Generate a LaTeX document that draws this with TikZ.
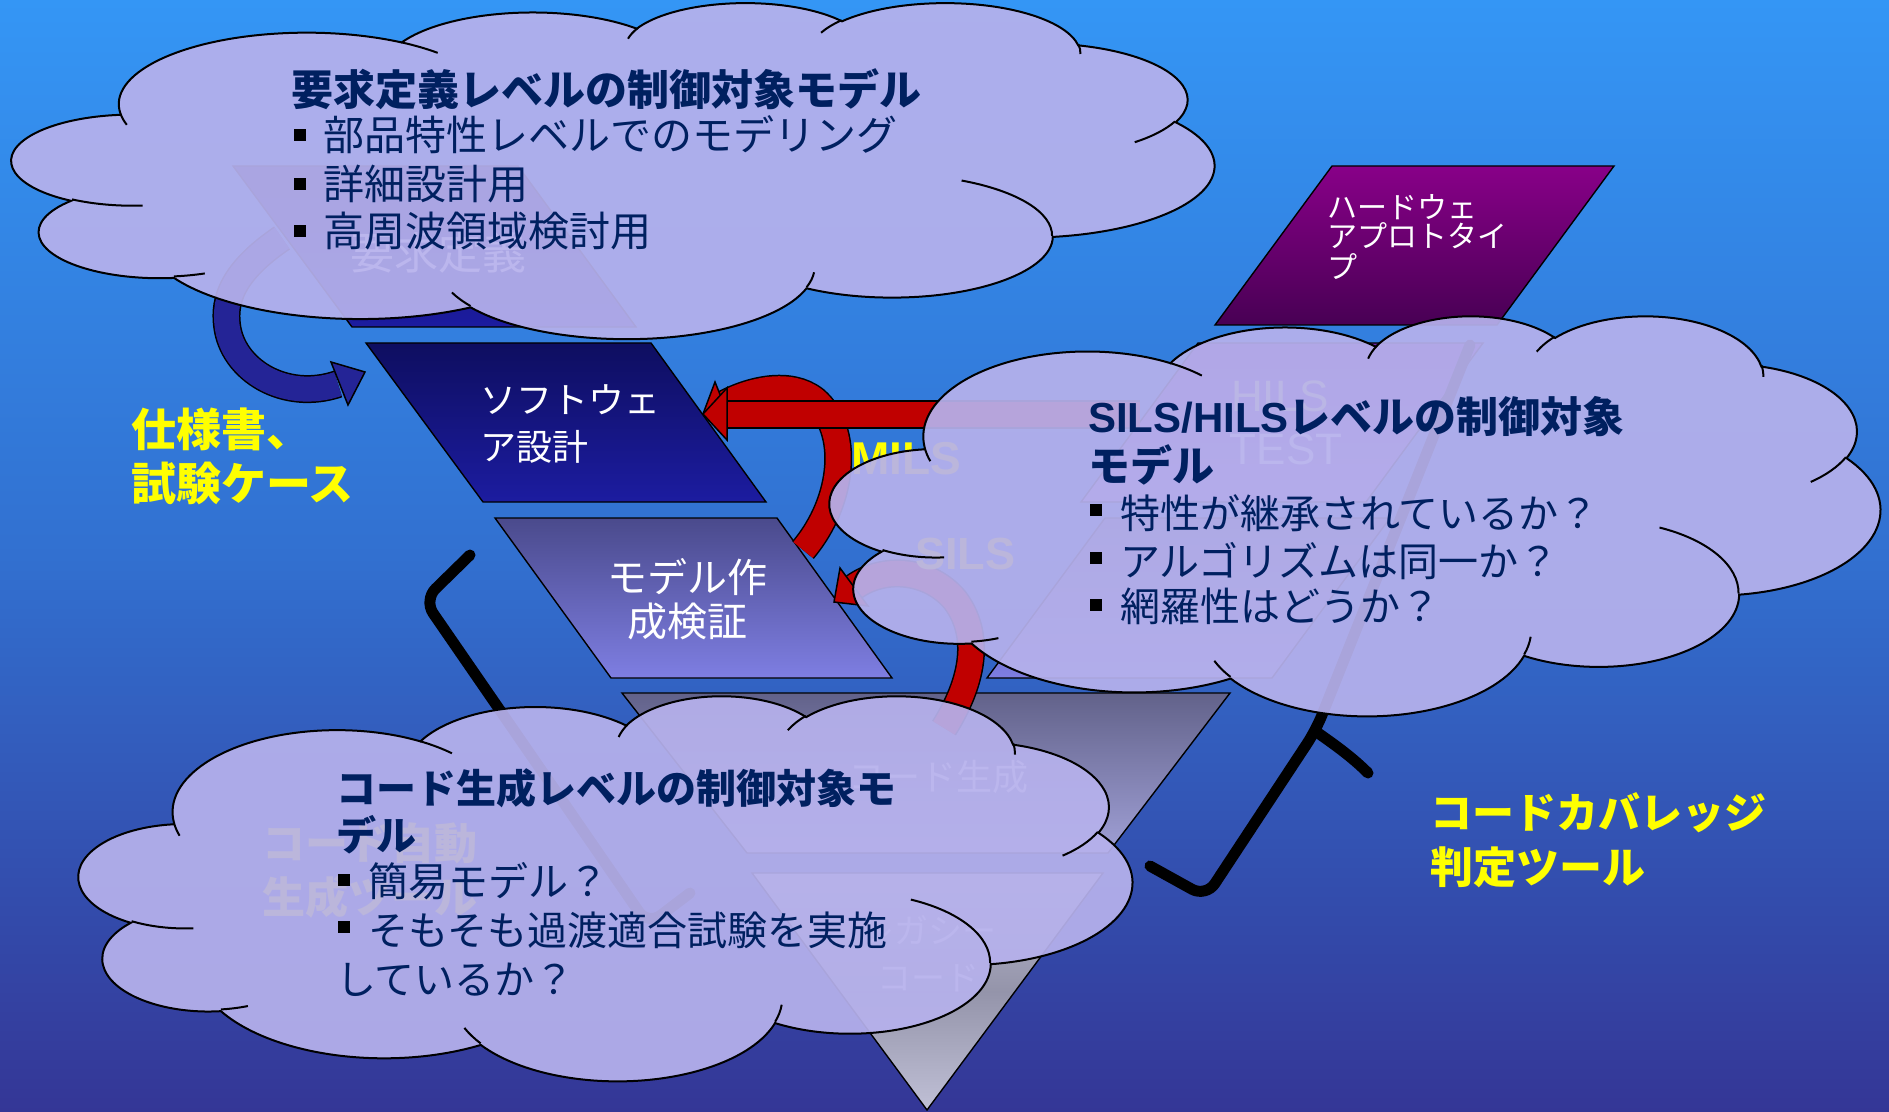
\documentclass[tikz,border=0pt]{standalone}
\usepackage{fontspec}
\newfontfamily\jp{Noto Sans CJK JP}
\newfontfamily\lib{Liberation Sans}
\definecolor{bgtop}{RGB}{52,150,245}
\definecolor{bgmid}{RGB}{50,112,208}
\definecolor{bgbot}{RGB}{52,54,150}
\definecolor{navyt}{RGB}{0,32,96}
\definecolor{cloudc}{RGB}{182,177,236}
\definecolor{arrowred}{RGB}{192,0,0}
\definecolor{arrowblue}{RGB}{36,36,150}
\definecolor{swtop}{RGB}{14,14,96}
\definecolor{swbot}{RGB}{28,28,160}
\definecolor{mdtop}{RGB}{74,74,140}
\definecolor{mdbot}{RGB}{126,126,226}
\definecolor{hwtop}{RGB}{136,0,136}
\definecolor{hwbot}{RGB}{72,0,84}
\definecolor{hltop}{RGB}{112,40,168}
\definecolor{hlbot}{RGB}{150,100,220}
\definecolor{cgtop}{RGB}{98,98,138}
\definecolor{cgbot}{RGB}{160,160,214}
\definecolor{lgtop}{RGB}{188,188,208}
\definecolor{lgmid}{RGB}{148,148,170}
\definecolor{lgbot}{RGB}{192,192,214}
\definecolor{yel}{RGB}{255,255,0}
\definecolor{paleyel}{RGB}{250,250,150}

% PowerPoint-style cloud in a 1000 x 1000 box: #1,#2 = top-left corner, #3,#4 = x / y unit
\newcommand{\pptcloud}[4]{%
  \begin{scope}[shift={(#1,#2)},x=#3,y=#4]
    \path[cloudfill] (90.28,332.64)
      arc[start angle=-187.74,delta angle=128.12,x radius=156.32,y radius=212.73]
      arc[start angle=-152.01,delta angle=106.53,x radius=123.45,y radius=168.22]
      arc[start angle=-153.48,delta angle=116.15,x radius=101.04,y radius=137.62]
      arc[start angle=-139.79,delta angle=129.61,x radius=112.43,y radius=152.66]
      arc[start angle=-74.79,delta angle=98.03,x radius=123.45,y radius=168.36]
      arc[start angle=-37.50,delta angle=119.36,x radius=156.83,y radius=213.43]
      arc[start angle=0.46,delta angle=121.54,x radius=133.91,y radius=182.11]
      arc[start angle=16.88,delta angle=129.30,x radius=156.30,y radius=213.31]
      arc[start angle=59.06,delta angle=91.06,x radius=178.70,y radius=244.05]
      arc[start angle=83.29,delta angle=139.72,x radius=100.93,y radius=136.99]
      arc[start angle=120.23,delta angle=143.91,x radius=100.58,y radius=137.62]
      -- cycle;
    \draw[crease]
      (108.63,605.95) arc[start angle=85.55,delta angle=34.81,x radius=100.58,y radius=137.62]
      (160.37,807.85) arc[start angle=68.24,delta angle=15.06,x radius=100.93,y radius=136.99]
      (381.44,904.86) arc[start angle=146.24,delta angle=12.23,x radius=156.30,y radius=213.31]
      (667.29,804.42) arc[start angle=4.74,delta angle=12.14,x radius=156.30,y radius=213.31]
      (790.02,531.34) arc[start angle=-64.03,delta angle=64.49,x radius=133.91,y radius=182.11]
      (967.55,355.42) arc[start angle=23.24,delta angle=26.40,x radius=123.45,y radius=168.36]
      (887.13,125.60) arc[start angle=-10.18,delta angle=11.00,x radius=112.43,y radius=152.66]
      (673.10,91.48) arc[start angle=-156.29,delta angle=16.50,x radius=112.43,y radius=152.66]
      (512.52,109.26) arc[start angle=-167.73,delta angle=14.25,x radius=101.04,y radius=137.62]
      (324.07,120.19) arc[start angle=-59.62,delta angle=13.89,x radius=156.32,y radius=212.73]
      (95.53,365.49) arc[start angle=163.19,delta angle=9.07,x radius=156.32,y radius=212.73];
  \end{scope}}

\begin{document}
\begin{tikzpicture}[x=0.5pt,y=-0.5pt,
  every node/.style={inner sep=0pt,outer sep=0pt},
  cloudfill/.style={fill=cloudc,fill opacity=0.93,draw=black,line width=1pt},
  crease/.style={draw=black,line width=1pt},
  boxline/.style={draw=black,line width=0.7pt},
  bandout/.style={draw=black,line width=14pt},
  redband/.style={draw=arrowred,line width=12.5pt},
  blueband/.style={draw=arrowblue,line width=12.5pt},
  redhead/.style={fill=arrowred,draw=black,line width=0.75pt},
  bluehead/.style={fill=arrowblue,draw=black,line width=0.75pt},
  bracket/.style={draw=black,line width=5.5pt,line cap=round,line join=round,rounded corners=8pt},
  bulletsq/.style={fill=black},
  ctitle/.style={text=navyt,anchor=base west,font=\jp\bfseries\fontsize{21}{21}\selectfont},
  ctitlesm/.style={text=navyt,anchor=base west,font=\jp\bfseries\fontsize{20}{20}\selectfont},
  citem/.style={text=navyt,anchor=base west,font=\jp\fontsize{20.5}{20.5}\selectfont},
  citemsm/.style={text=navyt,anchor=base west,font=\jp\fontsize{20}{20}\selectfont},
  yellab/.style={text=yel,anchor=base west,font=\jp\bfseries\fontsize{22.5}{22.5}\selectfont},
  boxtext/.style={text=white,font=\jp\fontsize{18}{18}\selectfont},
  loopword/.style={text=yel,anchor=base,font=\lib\bfseries\fontsize{23}{23}\selectfont}
]
% ---------- background ----------
\shade[top color=bgtop,bottom color=bgbot,middle color=bgmid] (0,0) rectangle (1889,1112);
\useasboundingbox (0,0) rectangle (1889,1112);

% ---------- V-model blocks ----------
\shadedraw[boxline,top color=swtop,bottom color=swbot] (233,166) -- (518,166) -- (636,327) -- (352,327) -- cycle;
\shadedraw[boxline,top color=swtop,bottom color=swbot] (366,343) -- (651,343) -- (766,502) -- (483,502) -- cycle;
\shadedraw[boxline,top color=mdtop,bottom color=mdbot] (495,518) -- (777,518) -- (892,678) -- (611,678) -- cycle;
\shadedraw[boxline,top color=cgtop,bottom color=cgbot] (622,693) -- (1230,693) -- (1108,853) -- (747,853) -- cycle;
\shadedraw[boxline,top color=lgtop,bottom color=lgbot,middle color=lgmid] (752,873) -- (1103,873) -- (927,1110) -- cycle;
\shadedraw[boxline,top color=mdtop,bottom color=mdbot] (1105,518) -- (1390,518) -- (1272,678) -- (987,678) -- cycle;
\shadedraw[boxline,top color=hltop,bottom color=hlbot] (1198,343) -- (1483,343) -- (1366,502) -- (1081,502) -- cycle;
\shadedraw[boxline,top color=hwtop,bottom color=hwbot] (1332,166) -- (1614,166) -- (1497,325) -- (1215,325) -- cycle;

% block labels
\node[boxtext,anchor=base,font=\jp\fontsize{22}{22}\selectfont] (req) at (438,270) {要求定義};
\node[boxtext,anchor=base west] (sw1) at (480,414) {ソフトウェ};
\node[boxtext,anchor=base west] (sw2) at (480,460) {ア設計};
\node[boxtext,anchor=base,font=\jp\fontsize{20}{20}\selectfont] (md1) at (687,592) {モデル作};
\node[boxtext,anchor=base,font=\jp\fontsize{20}{20}\selectfont] (md2) at (687,636) {成検証};
\node[boxtext,anchor=base] (cg) at (938,790) {コード生成};
\node[boxtext,anchor=base,font=\jp\fontsize{17}{17}\selectfont] (lg1) at (928,943) {レガシー};
\node[boxtext,anchor=base,font=\jp\fontsize{17}{17}\selectfont] (lg2) at (928,990) {コード};
\node[boxtext,anchor=base west,font=\jp\fontsize{15}{15}\selectfont] (hw1) at (1327,219) {ハードウェ};
\node[boxtext,anchor=base west,font=\jp\fontsize{15}{15}\selectfont] (hw2) at (1327,248) {アプロトタイ};
\node[boxtext,anchor=base west,font=\jp\fontsize{15}{15}\selectfont] (hw3) at (1327,279) {プ};
\node[anchor=base,text=paleyel,font=\lib\fontsize{22}{22}\selectfont] (hils) at (1280,412) {HILS};
\node[anchor=base,text=white,font=\lib\fontsize{22}{22}\selectfont] (test) at (1286,465) {TEST};

% ---------- arrows ----------
% blue arrow (specification -> software design)
\draw[bandout] (282,238) .. controls (232,272) and (224,300) .. (227,325) .. controls (232,370) and (285,402) .. (338,384);
\draw[blueband] (282,238) .. controls (232,272) and (224,300) .. (227,325) .. controls (232,370) and (285,402) .. (338,384);
\filldraw[bluehead] (365,372) -- (331,362) -- (348,405) -- cycle;

% MILS loop (curved)
\draw[bandout] (803,550) .. controls (845,500) and (850,430) .. (815,400) .. controls (790,380) and (750,390) .. (724,404);
\draw[redband] (803,550) .. controls (845,500) and (850,430) .. (815,400) .. controls (790,380) and (750,390) .. (724,404);
\filldraw[redhead] (703,414) -- (715,382) -- (733,427) -- cycle;
% HILS arrow (straight)
\draw[bandout] (1140,414.5) -- (726,414.5);
\draw[redband] (1140,414.5) -- (726,414.5);
\filldraw[redhead] (703,414) -- (727,388) -- (727,440) -- cycle;
% SILS loop
\draw[bandout] (944,728) .. controls (968,690) and (985,640) .. (955,600) .. controls (930,570) and (885,565) .. (854,587);
\draw[redband] (944,728) .. controls (968,690) and (985,640) .. (955,600) .. controls (930,570) and (885,565) .. (854,587);
\filldraw[redhead] (834,602) -- (840,568) -- (868,606) -- cycle;

\node[loopword] (mils) at (906,474) {MILS};
\node[loopword,font=\lib\bfseries\fontsize{22.5}{22.5}\selectfont] (sils) at (965,569) {SILS};

% ---------- brackets ----------
\draw[bracket] (470,555) -- (424,600) -- (648,925) -- (690,893);
\draw[bracket] (1150,866) -- (1206,897) -- (1316,730) -- (1470,345);
\draw[bracket] (1318,733) .. controls (1335,745) and (1352,757) .. (1368,773);

% yellow label under the lower cloud
\node[yellab,font=\jp\bfseries\fontsize{21.5}{21.5}\selectfont] (auto1) at (262,859) {コード自動};
\node[yellab,font=\jp\bfseries\fontsize{21.5}{21.5}\selectfont] (auto2) at (262,913) {生成ツール};

% ---------- clouds ----------
\pptcloud{12}{2}{0.601pt}{-0.168pt}
\pptcloud{830}{315}{0.525pt}{-0.2pt}
\pptcloud{79}{695}{0.5265pt}{-0.1925pt}

% ---------- cloud texts ----------
\node[ctitle] (c1t) at (291,106) {要求定義レベルの制御対象モデル};
\fill[bulletsq] (294,129) rectangle (306,141);
\node[citem] (c1a) at (323,151) {部品特性レベルでのモデリング};
\fill[bulletsq] (294,178) rectangle (306,190);
\node[citem] (c1b) at (323,200) {詳細設計用};
\fill[bulletsq] (294,225) rectangle (306,237);
\node[citem] (c1c) at (323,247) {高周波領域検討用};

\node[ctitle] (c2t) at (1088,432) {{\lib\bfseries SILS/HILS}レベルの制御対象};
\node[ctitle] (c2t2) at (1088,481) {モデル};
\fill[bulletsq] (1090,504) rectangle (1102,516);
\node[citemsm] (c2a) at (1120,528) {特性が継承されているか？};
\fill[bulletsq] (1090,552) rectangle (1102,564);
\node[citemsm] (c2b) at (1120,576) {アルゴリズムは同一か？};
\fill[bulletsq] (1090,599) rectangle (1102,611);
\node[citemsm] (c2c) at (1120,621) {網羅性はどうか？};

\node[ctitlesm] (c3t) at (336,803) {コード生成レベルの制御対象モ};
\node[ctitlesm] (c3t2) at (336,850) {デル};
\fill[bulletsq] (338,874) rectangle (350,886);
\node[citemsm] (c3a) at (368,896) {簡易モデル？};
\fill[bulletsq] (338,921) rectangle (350,933);
\node[citemsm] (c3b) at (368,945) {そもそも過渡適合試験を実施};
\node[citemsm] (c3c) at (336,994) {しているか？};

% ---------- yellow labels ----------
\node[yellab] (spec1) at (131,446) {仕様書、};
\node[yellab] (spec2) at (131,500) {試験ケース};
\node[yellab,font=\jp\bfseries\fontsize{21}{21}\selectfont] (cov1) at (1430,828) {コードカバレッジ};
\node[yellab,font=\jp\bfseries\fontsize{21.5}{21.5}\selectfont] (cov2) at (1430,883) {判定ツール};
\end{tikzpicture}
\end{document}
